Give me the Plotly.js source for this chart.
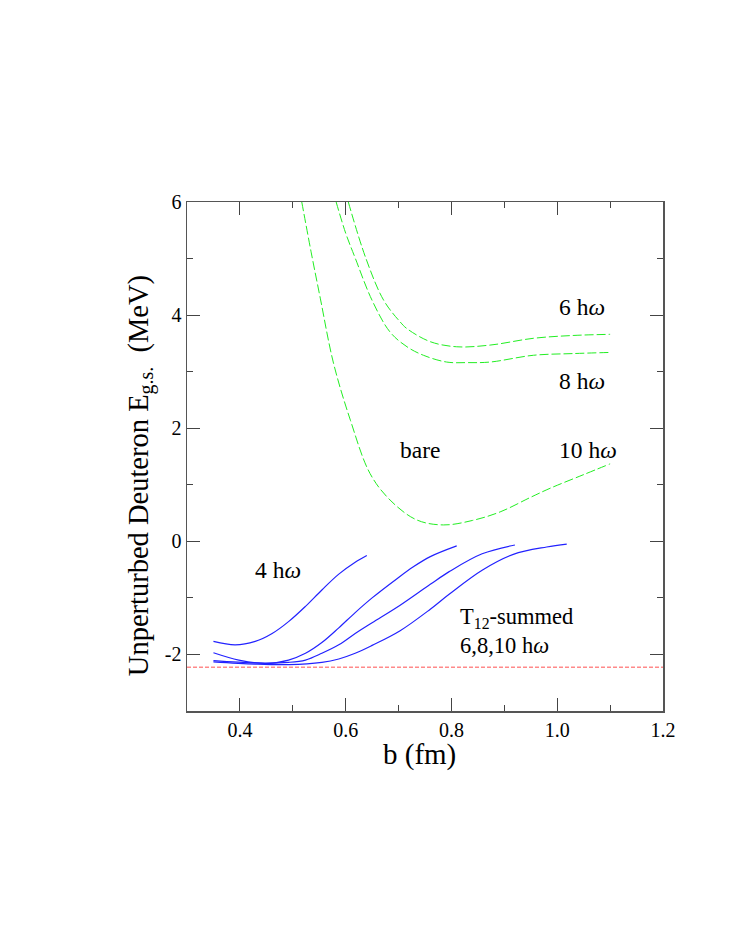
<!DOCTYPE html>
<html>
<head>
<meta charset="utf-8">
<script src="https://cdn.plot.ly/plotly-3.0.1.min.js"></script>
<style>
  body { margin: 0; background: #fff; }
  #plot { width: 734px; height: 949px; }
</style>
</head>
<body>
<div id="plot"></div>
<script>
// b (fm) and E (MeV)

// green dashed: bare oscillator basis
var bBare6 = [0.605, 0.638, 0.672, 0.703, 0.716, 0.76, 0.81, 0.873, 0.955, 1.03, 1.1];
var eBare6 = [6.0, 5.01, 4.26, 3.88, 3.76, 3.53, 3.44, 3.47, 3.59, 3.64, 3.66];

var bBare8 = [0.582, 0.60, 0.618, 0.65, 0.684, 0.716, 0.747, 0.791, 0.83, 0.873, 0.955, 1.03, 1.1];
var eBare8 = [6.0, 5.45, 5.01, 4.26, 3.70, 3.44, 3.29, 3.17, 3.16, 3.17, 3.29, 3.32, 3.34];

var bBare10 = [0.517, 0.535, 0.552, 0.577, 0.609, 0.646, 0.684, 0.734, 0.785, 0.84, 0.892, 0.95, 0.987, 1.05, 1.1];
var eBare10 = [6.0, 5.1, 4.3, 3.15, 2.14, 1.20, 0.73, 0.38, 0.29, 0.37, 0.52, 0.78, 0.94, 1.18, 1.37];

// blue solid: T12-summed
var bSum4 = [0.35, 0.391, 0.429, 0.461, 0.492, 0.524, 0.555, 0.587, 0.618, 0.64];
var eSum4 = [-1.77, -1.83, -1.77, -1.63, -1.42, -1.15, -0.86, -0.58, -0.37, -0.25];

var bSum6 = [0.35, 0.398, 0.448, 0.492, 0.524, 0.555, 0.587, 0.618, 0.65, 0.697, 0.728, 0.76, 0.81];
var eSum6 = [-1.97, -2.10, -2.16, -2.10, -1.98, -1.79, -1.53, -1.26, -1.00, -0.66, -0.45, -0.27, -0.08];

var bSum8 = [0.35, 0.429, 0.492, 0.524, 0.555, 0.587, 0.618, 0.65, 0.703, 0.76, 0.795, 0.858, 0.92];
var eSum8 = [-2.11, -2.15, -2.14, -2.10, -1.98, -1.83, -1.63, -1.44, -1.13, -0.76, -0.54, -0.22, -0.065];

var bSum10 = [0.35, 0.429, 0.492, 0.555, 0.587, 0.618, 0.65, 0.703, 0.76, 0.795, 0.858, 0.917, 0.98, 1.018];
var eSum10 = [-2.13, -2.17, -2.18, -2.14, -2.08, -1.98, -1.84, -1.58, -1.20, -0.94, -0.51, -0.23, -0.10, -0.05];

// red dashed: deuteron binding energy
var bExp = [0.3, 1.2];
var eExp = [-2.2246, -2.2246];

var xTickVals = [0.4, 0.6, 0.8, 1.0, 1.2];
var xTickText = ['0.4', '0.6', '0.8', '1.0', '1.2'];
var yTickVals = [-2, 0, 2, 4, 6];
var yTickText = ['-2', '0', '2', '4', '6'];

var FONT = 'Liberation Serif, DejaVu Serif, serif';

function greenDash(x, y) {
    return { x: x, y: y, mode: 'lines', type: 'scatter', line: { color: '#22ee22', width: 1, dash: '9px,3px', shape: 'spline' }, hoverinfo: 'skip' };
}
function blueLine(x, y) {
    return { x: x, y: y, mode: 'lines', type: 'scatter', line: { color: '#2222ff', width: 1.2, shape: 'spline' }, hoverinfo: 'skip' };
}

var traces = [
    greenDash(bBare6, eBare6),
    greenDash(bBare8, eBare8),
    greenDash(bBare10, eBare10),
    blueLine(bSum4, eSum4),
    blueLine(bSum6, eSum6),
    blueLine(bSum8, eSum8),
    blueLine(bSum10, eSum10),
    { x: bExp, y: eExp, mode: 'lines', type: 'scatter', line: { color: '#ff8a8a', width: 1.5, dash: '4px,2px' }, hoverinfo: 'skip' }
];

function label(text, x, y, anchor, size) {
    return { text: text, x: x, y: y, xref: 'x', yref: 'y', showarrow: false, xanchor: anchor || 'center', yanchor: 'middle', font: { family: FONT, size: size || 23.5, color: '#000' } };
}

var axisCommon = {
    showgrid: false, zeroline: false,
    showline: true, linecolor: '#555', linewidth: 1.5, mirror: 'ticks',
    ticks: 'inside', ticklen: 13, tickcolor: '#444', tickwidth: 1.2,
    tickfont: { family: FONT, size: 20, color: '#000' }
};

var layout = {
    width: 734, height: 949,
    font: { family: FONT, color: '#000' },
    margin: { l: 187, r: 71, t: 202, b: 238 },
    paper_bgcolor: '#fff', plot_bgcolor: '#fff',
    showlegend: false,
    xaxis: Object.assign({}, axisCommon, {
        range: [0.3, 1.2],
        tickmode: 'array', tickvals: xTickVals, ticktext: xTickText,
        minor: { dtick: 0.1, tick0: 0.3, ticks: 'inside', ticklen: 6, tickcolor: '#444', tickwidth: 1.2 }
    }),
    yaxis: Object.assign({}, axisCommon, {
        range: [-3, 6],
        tickmode: 'array', tickvals: yTickVals, ticktext: yTickText,
        minor: { dtick: 1, tick0: -3, ticks: 'inside', ticklen: 6, tickcolor: '#444', tickwidth: 1.2 }
    }),
    annotations: [
        // axis titles
        { text: 'b (fm)', xref: 'paper', yref: 'paper', x: 0.488, y: -0.086, xanchor: 'center', yanchor: 'middle',
          showarrow: false, font: { family: FONT, size: 29, color: '#000' } },
        { text: 'Unperturbed Deuteron E<sub>g.s.</sub>  (MeV)', xref: 'paper', yref: 'paper', x: -0.098, y: 0.462,
          xanchor: 'center', yanchor: 'middle', textangle: -90, showarrow: false,
          font: { family: FONT, size: 28.5, color: '#000' } },
        // curve labels
        label('6 h<i>ω</i>', 1.047, 4.14),
        label('8 h<i>ω</i>', 1.047, 2.83),
        label('10 h<i>ω</i>', 1.058, 1.61),
        label('bare', 0.741, 1.62),
        label('4 h<i>ω</i>', 0.472, -0.51),
        label('T<sub>12</sub>-summed', 0.813, -1.35, 'left', 22.5),
        label('6,8,10 h<i>ω</i>', 0.813, -1.84, 'left', 22.5)
    ]
};

Plotly.newPlot('plot', traces, layout, { staticPlot: true, displayModeBar: false });
</script>
</body>
</html>
